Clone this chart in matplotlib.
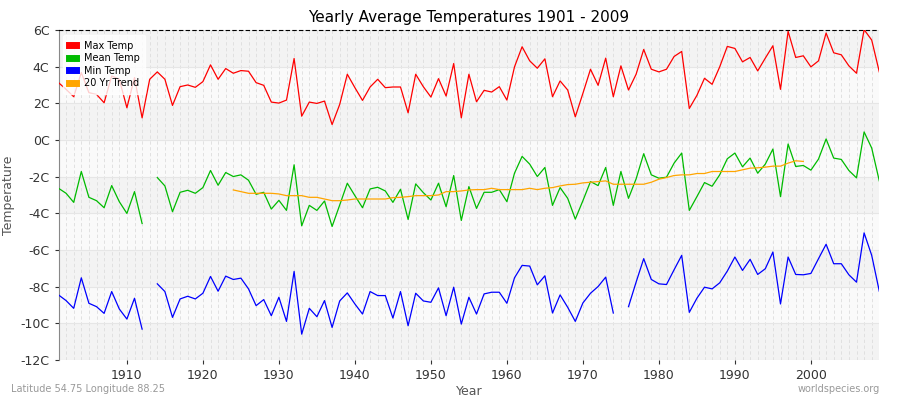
import numpy as np
import matplotlib
matplotlib.use("Agg")
import matplotlib.pyplot as plt

def conv(lst):
    return [None if z is None else 6.33 - z / 54.67 for z in lst]

years = list(range(1901, 2010))

max_z = [175,195,217,145,205,210,235,155,165,250,160,280,165,143,165,243,187,182,189,172,
         122,165,133,147,139,141,175,183,233,236,227,103,275,233,237,230,300,240,150,190,
         228,188,165,190,188,188,265,150,187,218,163,215,118,280,150,
         232,198,203,187,227,128,68,110,132,104,217,170,197,277,207,135,183,102,217,125,
         197,150,76,135,143,135,97,82,252,213,162,180,128,67,73,113,100,140,102,65,
         195,22,100,95,128,110,27,86,92,125,147,17,48,143]
mean_z = [490,505,532,440,517,527,548,482,530,565,500,595,None,
          458,483,560,502,496,505,488,437,481,443,455,450,466,508,502,552,526,556,420,602,
          541,556,528,604,540,475,512,548,492,487,498,532,493,583,477,503,525,475,545,452,
          586,485,
          550,502,502,494,530,445,395,418,455,428,541,488,520,582,527,470,482,428,541,440,
          520,462,387,450,460,457,415,385,556,515,473,484,450,402,385,426,400,445,418,373,
          515,358,425,422,436,403,343,400,404,437,459,322,370,468]
min_z = [808,825,848,757,833,843,863,798,850,880,818,910,None,
         775,798,875,820,812,820,803,753,797,752,762,758,790,840,822,870,815,887,738,925,
         848,873,825,905,826,802,835,865,798,810,810,877,798,900,803,826,830,787,870,785,
         895,815,
         865,805,800,800,833,757,720,722,778,751,862,808,845,887,832,803,783,755,862,None,
         843,770,700,762,775,777,733,690,860,818,785,790,772,737,695,735,702,747,730,680,
         835,695,747,748,744,700,657,715,715,748,770,623,690,797]
trend_z = [None]*23 + [495,500,505,505,505,505,507,512,512,512,517,517,522,527,527,525,522,522,522,522,
           522,518,517,515,512,512,512,510,500,500,498,495,
           494,494,490,494,494,494,494,490,494,490,488,483,479,478,474,472,470,468,478,478,
           478,478,478,472,463,458,452,450,450,446,446,440,440,440,440,435,430,429,427,424,
           424,415,408,410] + [None]*10

max_t = conv(max_z); mean_t = conv(mean_z); min_t = conv(min_z); trend_t = conv(trend_z)

def arr(v):
    return np.array([np.nan if x is None else x for x in v], dtype=float)

fig = plt.figure(figsize=(9, 4), dpi=100)
ax = fig.add_axes([0.065, 0.1, 0.912, 0.825])
for i, lo in enumerate(range(-12, 6, 2)):
    ax.axhspan(lo, lo + 2, color="#f3f3f3" if i % 2 == 0 else "#fafafa", zorder=0, lw=0)
for y in years:
    ax.axvline(y, color="#dddddd", lw=0.6, ls=(0, (4, 3)), zorder=1)
for v in range(-12, 7, 2):
    ax.axhline(v, color="#e6e6e6", lw=0.8, zorder=1)

ax.plot(years, arr(max_t), color="#ff0000", lw=0.9, label="Max Temp", zorder=3)
ax.plot(years, arr(mean_t), color="#00bb00", lw=0.9, label="Mean Temp", zorder=3)
ax.plot(years, arr(min_t), color="#0000ff", lw=0.9, label="Min Temp", zorder=3)
ax.plot(years, arr(trend_t), color="#ffa500", lw=0.9, label="20 Yr Trend", zorder=3)

ax.set_xlim(1901, 2009)
ax.set_ylim(-12, 6)
ax.set_yticks(range(-12, 7, 2))
ax.set_yticklabels([f"{v}C" for v in range(-12, 7, 2)])
ax.set_xticks(range(1910, 2010, 10))
ax.tick_params(labelsize=9, colors="#333333", length=3)
for s in ["right", "bottom"]:
    ax.spines[s].set_visible(False)
ax.spines["left"].set_color("#888888")
ax.spines["top"].set_linestyle((0, (3, 3)))
ax.spines["top"].set_color("#000000")
ax.set_xlabel("Year", fontsize=9, color="#555555", labelpad=2)
ax.set_ylabel("Temperature", fontsize=9, color="#555555")
ax.set_title("Yearly Average Temperatures 1901 - 2009", fontsize=11, pad=6)

leg = ax.legend(loc="upper left", fontsize=7, frameon=True, handlelength=0.7, handleheight=0.7,
                borderpad=0.6, labelspacing=0.25, handletextpad=0.8)
leg.get_frame().set_edgecolor("#ffffff")
for h in leg.legend_handles:
    h.set_linewidth(5)

fig.text(0.012, 0.02, "Latitude 54.75 Longitude 88.25", fontsize=7, color="#999999")
fig.text(0.978, 0.02, "worldspecies.org", fontsize=7, color="#999999", ha="right")
fig.savefig("out.png")
